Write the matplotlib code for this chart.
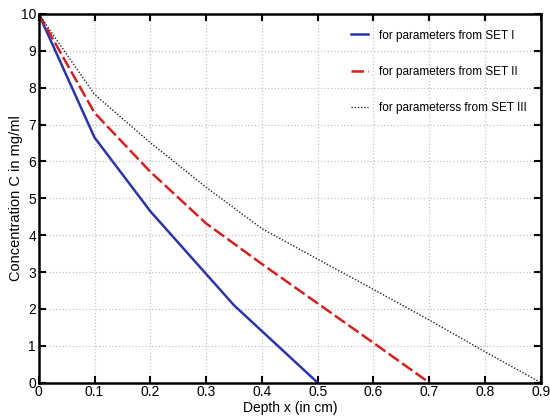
import matplotlib
matplotlib.use("Agg")
import matplotlib.pyplot as plt
from matplotlib import font_manager

# Concentration profiles versus depth for three parameter sets
x_set1 = [0.0, 0.1, 0.2, 0.35, 0.5]
c_set1 = [10.0, 6.65, 4.65, 2.1, 0.0]

x_set2 = [0.0, 0.1, 0.2, 0.3, 0.4, 0.5, 0.6, 0.7]
c_set2 = [10.0, 7.32, 5.72, 4.32, 3.22, 2.15, 1.08, 0.0]

x_set3 = [0.0, 0.1, 0.2, 0.3, 0.4, 0.5, 0.6, 0.7, 0.8, 0.9]
c_set3 = [10.0, 7.82, 6.51, 5.3, 4.18, 3.35, 2.53, 1.70, 0.84, 0.0]

labels = ["for parameters from SET I",
          "for parameters from SET II",
          "for parameterss from SET III"]

x_ticks = [0, 0.1, 0.2, 0.3, 0.4, 0.5, 0.6, 0.7, 0.8, 0.9]
y_ticks = list(range(0, 11))

available = {f.name for f in font_manager.fontManager.ttflist}
narrow = "Liberation Sans Narrow" if "Liberation Sans Narrow" in available else "Liberation Sans"
plt.rcParams["font.family"] = [narrow, "DejaVu Sans"]

fig = plt.figure(figsize=(5.5, 4.19), dpi=100)
ax = fig.add_axes([0.0704, 0.0866, 0.913, 0.880])

ax.plot(x_set1, c_set1, color="#2b35a8", lw=1.8, ls="-", label=labels[0])
ax.plot(x_set2, c_set2, color="#d42020", lw=1.8, ls=(0, (5, 1.6)), label=labels[1])
ax.plot(x_set3, c_set3, color="#222222", lw=1.0, ls=(0, (1, 1.3)), label=labels[2])

ax.set_xlim(0, 0.9)
ax.set_ylim(0, 10)
ax.set_xticks(x_ticks)
ax.set_xticklabels(["0" if v == 0 else f"{v:g}" for v in x_ticks])
ax.set_yticks(y_ticks)

ax.grid(True, color="#c4c4c4", ls=":", lw=0.9)
ax.tick_params(direction="in", top=True, right=True, length=5, width=1.5,
               labelsize=10, pad=2)
for s in ax.spines.values():
    s.set_linewidth(1.8)

ax.set_xlabel("Depth x (in cm)", fontsize=10, labelpad=1)
ax.set_ylabel("Concentration C in mg/ml", fontsize=10.5,
              family=["Liberation Sans", "DejaVu Sans"])
ax.yaxis.set_label_coords(-0.031, 0.5)

leg = ax.legend(loc="upper right", bbox_to_anchor=(1.0, 0.995), frameon=False,
                fontsize=8.5, handlelength=1.5, handletextpad=0.93,
                labelspacing=2.07, borderaxespad=0.76)

fig.savefig("out.png", dpi=100)
